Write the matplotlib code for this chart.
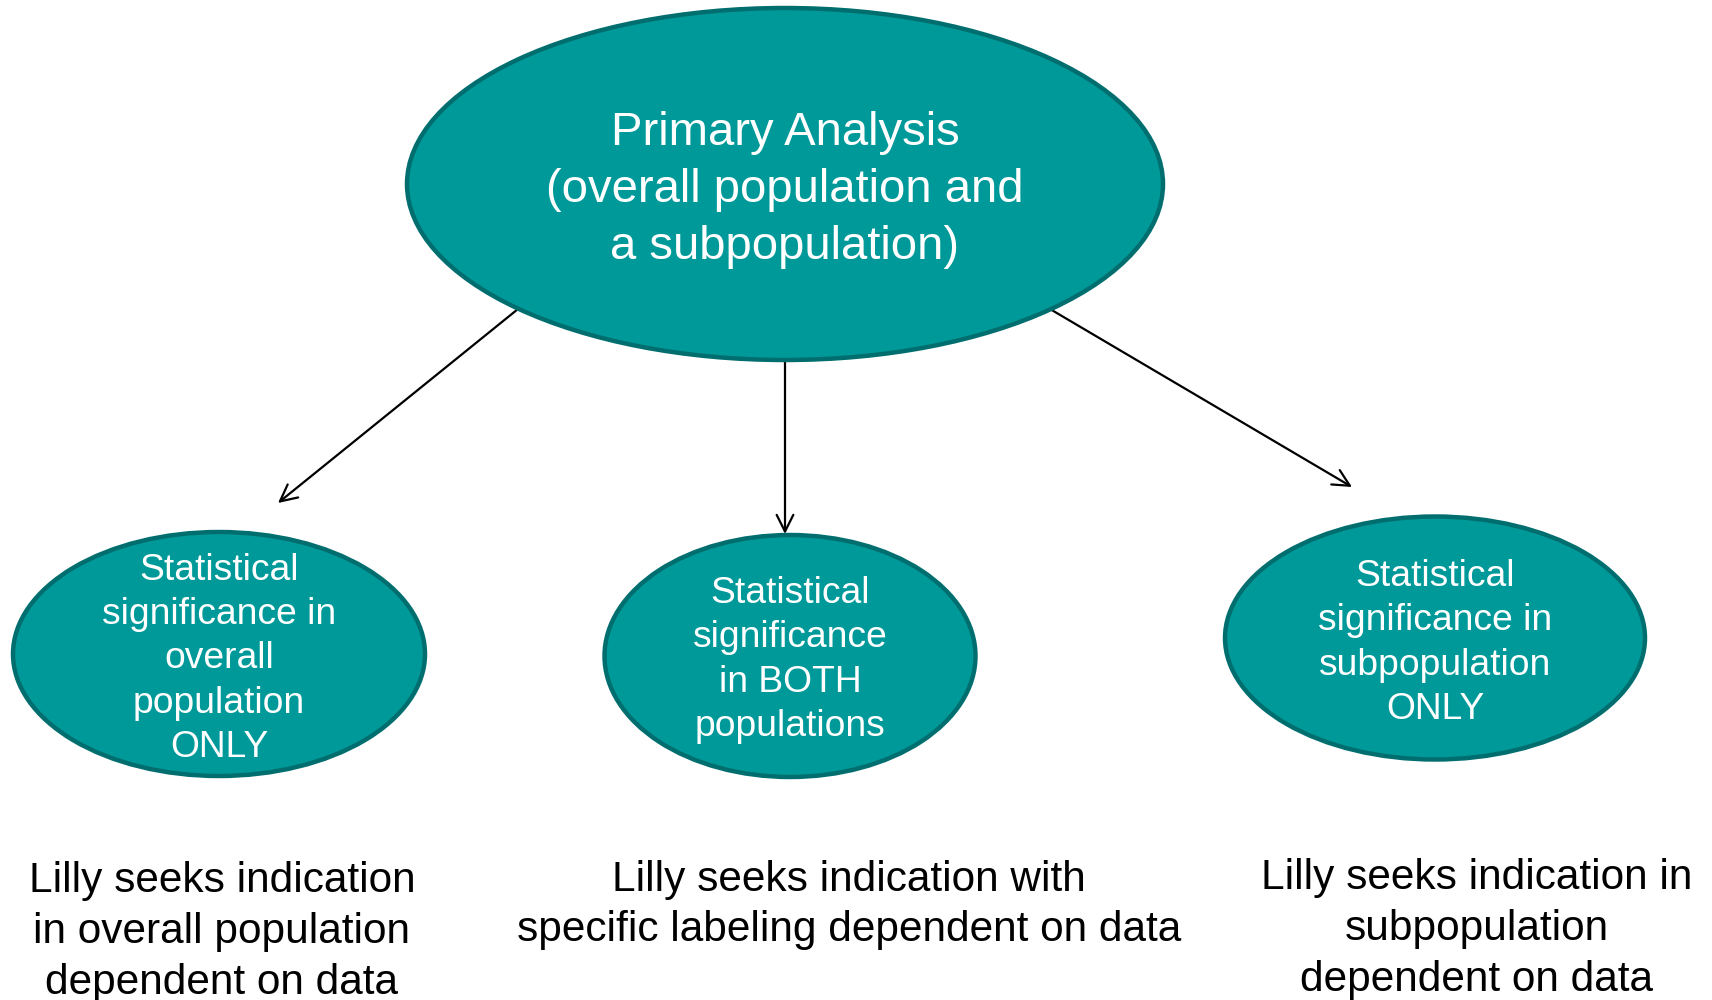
import matplotlib
matplotlib.use("Agg")
import matplotlib.pyplot as plt
from matplotlib.patches import Ellipse, FancyArrowPatch

plt.rcParams['font.family'] = ['Liberation Sans', 'DejaVu Sans']

# ---- content ----
root_label = "Primary Analysis\n(overall population and\na subpopulation)"
node_labels = [
    "Statistical\nsignificance in\noverall\npopulation\nONLY",
    "Statistical\nsignificance\nin BOTH\npopulations",
    "Statistical\nsignificance in\nsubpopulation\nONLY",
]
outcome_labels = [
    "Lilly seeks indication\nin overall population\ndependent on data",
    "Lilly seeks indication with\nspecific labeling dependent on data",
    "Lilly seeks indication in\nsubpopulation\ndependent on data",
]

# ---- layout (pixel coordinates, y downward) ----
W, H = 1712, 1000
root_geom = (785, 184, 756, 352)
root_text_y = 190
node_geom = [(219, 654, 412, 244), (790, 656, 371, 242), (1435, 638, 420, 243)]
node_text_y = [659, 660, 643]
outcome_pos = [(222, 932), (849, 905), (1477, 929)]
arrows = [((518, 309), (278, 503)), ((785, 360), (785, 534)), ((1050, 309), (1352, 487))]

FILL = '#009999'
EDGE = '#006e6e'

fig = plt.figure(figsize=(W / 100, H / 100), dpi=100)
ax = fig.add_axes([0, 0, 1, 1])
ax.set_xlim(0, W)
ax.set_ylim(H, 0)
ax.axis('off')

for (p0, p1) in arrows:
    ax.add_patch(FancyArrowPatch(p0, p1, arrowstyle='->,head_length=12,head_width=6',
                                 mutation_scale=1, lw=1.6, color='black', zorder=1,
                                 shrinkA=0, shrinkB=0))

cx, cy, w, h = root_geom
ax.add_patch(Ellipse((cx, cy), w, h, facecolor=FILL, edgecolor=EDGE, lw=3.2, zorder=2))
ax.text(cx, root_text_y, root_label, ha='center', va='center', color='white',
        fontsize=34, linespacing=1.39, zorder=3)

for (gx, gy, gw, gh), ty, lab in zip(node_geom, node_text_y, node_labels):
    ax.add_patch(Ellipse((gx, gy), gw, gh, facecolor=FILL, edgecolor=EDGE, lw=3.2, zorder=2))
    ax.text(gx, ty, lab, ha='center', va='center', color='white',
            fontsize=26.8, linespacing=1.34, zorder=3)

for (ox, oy), lab in zip(outcome_pos, outcome_labels):
    ax.text(ox, oy, lab, ha='center', va='center', color='black',
            fontsize=30.5, linespacing=1.345, zorder=3)

fig.savefig('out.png', dpi=100)
